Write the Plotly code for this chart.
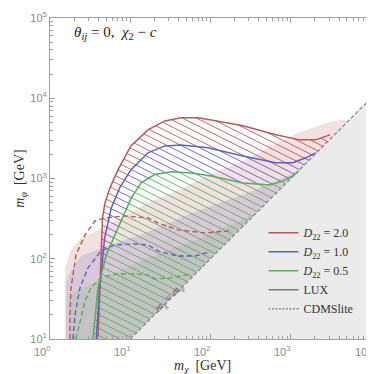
import numpy as np
import plotly.graph_objects as go

# ---------------- data ----------------
# LUX limits (solid)
red_lux_x = [3.96, 4.13, 4.32, 4.51, 4.84, 5.59, 7.03, 10.2, 16.6, 27.0, 42.8, 69.7, 98.3, 253, 652, 1298, 2055, 2900, 3070]
red_lux_y = [10, 32.5, 136, 323, 496, 764, 1280, 2550, 4040, 5220, 5700, 5700, 5380, 4530, 3500, 3030, 3030, 3400, 3500]
blue_lux_x = [3.77, 4.16, 4.80, 5.80, 7.38, 10.2, 16.6, 27.0, 42.8, 92.9, 253, 652, 1062, 1542, 2055]
blue_lux_y = [10, 43.2, 182, 430, 764, 1280, 2090, 2550, 2620, 2410, 1910, 1570, 1570, 1810, 2090]
green_lux_x = [3.43, 3.96, 5.02, 7.03, 10.3, 12.5, 13.7, 20.1, 32.4, 57.5, 98.3, 253, 549, 798, 1062, 1225]
green_lux_y = [10, 43.2, 112, 242, 573, 764, 881, 1120, 1210, 1170, 1080, 881, 832, 933, 1080, 1210]

# CDMSlite limits (dashed)
red_cdms_x = [1.77, 1.77, 1.83, 2.11, 2.73, 3.63, 4.84, 8.59, 16.6, 22.1, 39.3, 85.1, 165, 179]
red_cdms_y = [10, 19.9, 43.2, 112, 198, 296, 323, 342, 323, 279, 229, 210, 222, 229]
blue_cdms_x = [1.93, 2.05, 2.36, 2.97, 4.32, 6.45, 11.4, 16.6, 22.1, 39.3, 64.0, 98.3]
blue_cdms_y = [10, 19.9, 43.2, 76.7, 125, 149, 153, 149, 125, 108, 108, 122]
green_cdms_x = [2.11, 2.36, 2.73, 3.24, 4.32, 6.45, 11.4, 16.6, 20.3, 32.1, 52.3, 57.0]
green_cdms_y = [10, 16.8, 29.8, 43.2, 57.7, 64.6, 64.6, 62.8, 56.0, 57.7, 62.8, 64.6]

# shaded bands
red_band_x = [1.54, 1.54, 1.77, 2.43, 4.32, 14.4, 42.8, 98.3, 253, 652, 1158, 3070, 4450, 4900, 5150, 10]
red_band_y = [10, 76.7, 122, 182, 235, 469, 741, 1110, 1660, 2700, 3600, 5080, 5380, 5300, 5150, 10]
blue_band_x = [1.58, 1.58, 1.83, 2.43, 5.28, 16.6, 64.0, 292, 691, 1225, 10]
blue_band_y = [10, 49.9, 72.4, 108, 145, 216, 384, 661, 961, 1240, 10]
green_band_x = [1.72, 1.72, 1.99, 2.73, 5.28, 16.6, 64.0, 165, 368, 10]
green_band_y = [10, 30.6, 38.5, 44.5, 61.1, 102, 171, 256, 372, 10]

# kinematic boundary m_chi = m_phi
diag_x = [10, 10000]
diag_y = [10, 10000]
forbidden_x = [10, 10000, 10000]
forbidden_y = [10, 10000, 10]

labels = ["2.0", "1.0", "0.5"]
x_ticks = [1, 10, 100, 1000, 10000]
x_ticktext = ["10<sup>0</sup>", "10<sup>1</sup>", "10<sup>2</sup>", "10<sup>3</sup>", "10<sup>4</sup>"]
y_ticks = [10, 100, 1000, 10000, 100000]
y_ticktext = ["10<sup>1</sup>", "10<sup>2</sup>", "10<sup>3</sup>", "10<sup>4</sup>", "10<sup>5</sup>"]

RED = "#b35a5c"
BLUE = "#5e60c0"
GREEN = "#5aab5a"
SERIF = "Liberation Serif"
TICKFONT = dict(family="Liberation Sans", size=11, color="#8a8a8a")


def inside(lx, ly, cx, cy):
    lcx = np.log10(cx)
    lcy = np.log10(cy)
    f = np.interp(lx, lcx, lcy)
    return (lx >= lcx[0]) & (lx <= lcx[-1]) & (ly <= f) & (ly >= lx)


def hatch(cx, cy, excl=None, slope=-0.5, gap=0.0873):
    lxs = np.arange(0.0, 4.0, 0.0005)
    xs, ys = [], []
    for c in np.arange(0.3, 6.5, gap):
        lys = c + slope * lxs
        m = inside(lxs, lys, cx, cy)
        if excl is not None:
            m &= ~inside(lxs, lys, excl[0], excl[1])
        if not m.any():
            continue
        d = np.diff(m.astype(int))
        starts = list(np.where(d == 1)[0] + 1)
        ends = list(np.where(d == -1)[0])
        if m[0]:
            starts = [0] + starts
        if m[-1]:
            ends = ends + [len(m) - 1]
        for s, e in zip(starts, ends):
            if e <= s:
                continue
            xs += [10 ** lxs[s], 10 ** lxs[e], None]
            ys += [10 ** lys[s], 10 ** lys[e], None]
    return xs, ys


fig = go.Figure()

# shaded bands
for bx, by, col in [(red_band_x, red_band_y, "rgba(200,115,115,0.22)"),
                    (blue_band_x, blue_band_y, "rgba(120,105,195,0.20)"),
                    (green_band_x, green_band_y, "rgba(105,175,105,0.20)")]:
    fig.add_trace(go.Scatter(x=bx, y=by, fill="toself", fillcolor=col, mode="none",
                             showlegend=False, hoverinfo="skip"))

# forbidden region
fig.add_trace(go.Scatter(x=forbidden_x, y=forbidden_y, fill="toself", fillcolor="#ebebeb",
                         mode="none", showlegend=False, hoverinfo="skip"))

# hatching
hx, hy = hatch(red_lux_x, red_lux_y, (blue_lux_x, blue_lux_y))
fig.add_trace(go.Scatter(x=hx, y=hy, mode="lines", line=dict(color=RED, width=0.9),
                         showlegend=False, hoverinfo="skip"))
hx, hy = hatch(blue_lux_x, blue_lux_y, (green_lux_x, green_lux_y))
fig.add_trace(go.Scatter(x=hx, y=hy, mode="lines", line=dict(color=BLUE, width=0.9),
                         showlegend=False, hoverinfo="skip"))
hx, hy = hatch(green_lux_x, green_lux_y)
fig.add_trace(go.Scatter(x=hx, y=hy, mode="lines", line=dict(color=GREEN, width=0.9),
                         showlegend=False, hoverinfo="skip"))

# diagonal
fig.add_trace(go.Scatter(x=diag_x, y=diag_y, mode="lines",
                         line=dict(color="#8a8a8a", width=1.3, dash="4px,2px"),
                         showlegend=False, hoverinfo="skip"))

# CDMSlite dashed
for cx, cy, col in [(red_cdms_x, red_cdms_y, RED), (blue_cdms_x, blue_cdms_y, BLUE),
                    (green_cdms_x, green_cdms_y, GREEN)]:
    fig.add_trace(go.Scatter(x=cx, y=cy, mode="lines", line=dict(color=col, width=1.4, dash="5px,3px"),
                             showlegend=False, hoverinfo="skip"))

# LUX solid
for cx, cy, col, lab, rank in [(red_lux_x, red_lux_y, RED, labels[0], 1),
                               (blue_lux_x, blue_lux_y, BLUE, labels[1], 2),
                               (green_lux_x, green_lux_y, GREEN, labels[2], 3)]:
    fig.add_trace(go.Scatter(x=cx, y=cy, mode="lines", line=dict(color=col, width=1.5),
                             name="<i>D</i><sub>22</sub> = " + lab, legendrank=rank))

fig.add_trace(go.Scatter(x=[None], y=[None], mode="lines", line=dict(color="#777", width=1.5),
                         name="LUX", legendrank=4))
fig.add_trace(go.Scatter(x=[None], y=[None], mode="lines", line=dict(color="#777", width=1.2, dash="2px,1.5px"),
                         name="CDMSlite", legendrank=5))

minor_x = [k * 10 ** d for d in range(0, 4) for k in range(2, 10)]
minor_y = [k * 10 ** d for d in range(1, 5) for k in range(2, 10)]

axis_common = dict(type="log", showline=True, linecolor="#a0a0a0", linewidth=1, mirror="ticks",
                   ticks="inside", ticklen=5, tickcolor="#a0a0a0", showgrid=False, zeroline=False,
                   automargin=False, ticklabeloverflow="allow", tickfont=TICKFONT)

# x tick labels placed through the x axis scale (log axis -> log10 position)
x_label_annotations = [
    dict(x=float(np.log10(v)), y=0, xref="x", yref="paper", yanchor="middle", xanchor="center",
         yshift=-12, xshift=-8, text=t, showarrow=False, font=TICKFONT)
    for v, t in zip(x_ticks, x_ticktext)
]

fig.update_layout(
    width=374, height=374,
    margin=dict(l=42, r=11, t=10, b=43),
    paper_bgcolor="white", plot_bgcolor="white",
    xaxis=dict(range=[0, 4], tickvals=x_ticks, showticklabels=False,
               minor=dict(ticks="inside", ticklen=3, tickcolor="#a0a0a0", tickvals=minor_x),
               **axis_common),
    yaxis=dict(range=[1, 5], tickvals=y_ticks, ticktext=y_ticktext,
               minor=dict(ticks="inside", ticklen=3, tickcolor="#a0a0a0", tickvals=minor_y),
               **axis_common),
    legend=dict(x=0.665, y=0.376, xanchor="left", yanchor="top", bgcolor="rgba(0,0,0,0)",
                font=dict(family=SERIF, size=12, color="#333"), tracegroupgap=0, itemwidth=30),
    annotations=x_label_annotations + [
        dict(x=0.068, y=0.953, xref="paper", yref="paper", xanchor="left", yanchor="middle",
             text="<i>θ<sub>ij</sub></i> = 0,  <i>χ</i><sub>2</sub> − <i>c</i>", showarrow=False,
             font=dict(family=SERIF, size=15, color="#222")),
        dict(x=0.475, y=-0.085, xref="paper", yref="paper", xanchor="center", yanchor="middle",
             text="<i>m</i><sub><i>χ</i></sub>  [GeV]", showarrow=False,
             font=dict(family=SERIF, size=14, color="#333")),
        dict(x=-0.093, y=0.50, xref="paper", yref="paper", xanchor="center", yanchor="middle",
             text="<i>m</i><sub><i>φ</i></sub>  [GeV]", showarrow=False, textangle=-90,
             font=dict(family=SERIF, size=14, color="#333")),
        dict(x=0.37, y=0.065, xref="paper", yref="paper", text="<i>m</i><sub><i>χ</i></sub> = <i>m</i><sub><i>φ</i></sub>",
             showarrow=False, textangle=-45, font=dict(family=SERIF, size=11, color="#666")),
    ],
)

fig.write_html("out.html")
